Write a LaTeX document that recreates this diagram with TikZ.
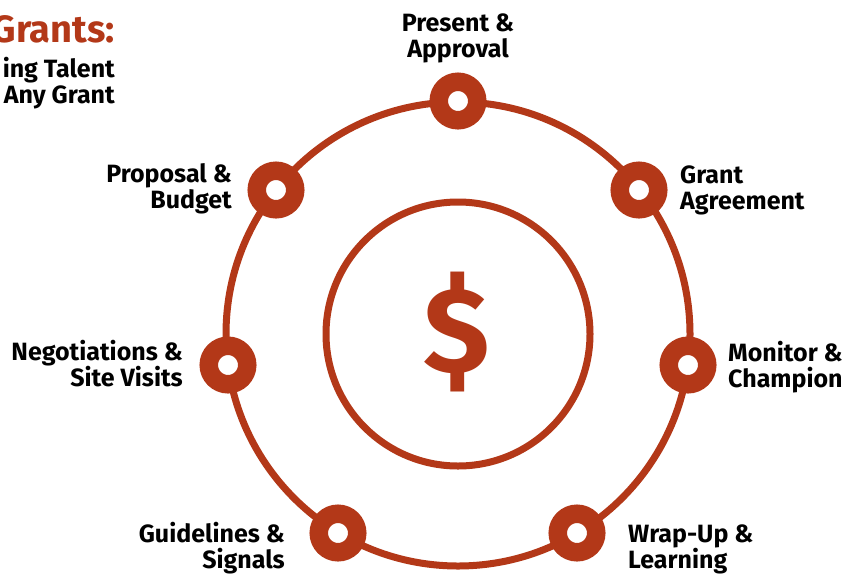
\documentclass[tikz,border=0pt]{standalone}
\usepackage{fontspec}
\setmainfont{Fira Sans}
\definecolor{rust}{HTML}{B33818}
\tikzset{
  ring/.style={draw=rust, line width=7pt},
  stage/.style={circle, draw=rust, fill=white, line width=18.5pt, minimum size=38.5pt, inner sep=0pt},
  lbl/.style={font=\fontsize{25}{26}\selectfont\bfseries, inner sep=0pt, text=black},
}
\begin{document}
\begin{tikzpicture}[x=1pt,y=-1pt]
\useasboundingbox (0,0) rectangle (846,574);
\fill[white] (0,0) rectangle (846,574);
% rings
\coordinate (c) at (458,334);
\draw[ring] (c) circle[radius=232pt];
\draw[ring] (c) circle[radius=132pt];
\node[text=rust, font=\fontsize{121}{121}\selectfont\bfseries, inner sep=0pt] (dollar) at (457,332) {\$};
% stages
\node[stage] (s1) at (458,101) {};
\node[stage] (s2) at (639,190) {};
\node[stage] (s3) at (688,365) {};
\node[stage] (s4) at (577,533) {};
\node[stage] (s5) at (338,533) {};
\node[stage] (s6) at (228,365) {};
\node[stage] (s7) at (276,190) {};
% labels (anchor = baseline of last line)
\node[lbl, anchor=base, align=center] (l1) at (458,57) {Present \&\\Approval};
\node[lbl, anchor=base west, align=left] (l2) at (680,209) {Grant\\Agreement};
\node[lbl, anchor=base west, align=left] (l3) at (728,387) {Monitor \&\\Champion};
\node[lbl, anchor=base west, align=left] (l4) at (628,568) {Wrap-Up \&\\Learning};
\node[lbl, anchor=base east, align=right] (l5) at (285,568) {Guidelines \&\\Signals};
\node[lbl, anchor=base east, align=right] (l6) at (183,386) {Negotiations \&\\Site Visits};
\node[lbl, anchor=base east, align=right] (l7) at (232,208) {Proposal \&\\Budget};
% title
\node[font=\fontsize{38}{38}\selectfont\bfseries, text=rust, anchor=base east, inner sep=0pt] (title) at (115,42) {Grants:};
\node[lbl, anchor=base east, align=right] (sub) at (115,103) {ing Talent\\Any Grant};
\end{tikzpicture}
\end{document}
